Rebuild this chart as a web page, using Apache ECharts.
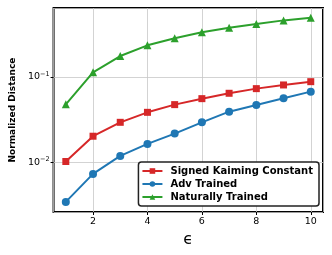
<!DOCTYPE html>
<html><head><meta charset="utf-8">
<script src="https://cdn.jsdelivr.net/npm/echarts@6/dist/echarts.min.js"></script>
<style>html,body{margin:0;padding:0;background:#fff}#c{width:332px;height:255px}</style>
</head><body><div id="c"></div>
<script>
const epsilons = [1,2,3,4,5,6,7,8,9,10];
const signedKaiming = [0.0102,0.0202,0.0294,0.0385,0.0474,0.0557,0.0644,0.0730,0.0806,0.0881];
const advTrained = [0.00343,0.0073,0.01187,0.0164,0.0217,0.0294,0.0392,0.0470,0.0562,0.0673];
const naturallyTrained = [0.0478,0.1135,0.176,0.235,0.284,0.334,0.378,0.418,0.461,0.496];
const seriesNames = ['Signed Kaiming Constant','Adv Trained','Naturally Trained'];
const F = 'DejaVu Sans';
const chart = echarts.init(document.getElementById('c'));
function mk(name, vals, color, symbol, size){
  return {name, type:'line', data: epsilons.map((e,i)=>[e, vals[i]]),
    symbol, symbolSize:size, itemStyle:{color}, lineStyle:{color, width:2}, z:3};
}
chart.setOption({
  animation:false,
  grid:{left:49,right:9,top:8,bottom:43,show:true,borderColor:'#000',borderWidth:2,backgroundColor:'transparent'},
  xAxis:{type:'value',min:0.55,max:10.45,splitNumber:5,
    axisLine:{show:false},
    axisTick:{show:true,length:3,lineStyle:{color:'#000',width:1}},
    axisLabel:{showMinLabel:false,showMaxLabel:false,color:'#000',fontFamily:F,fontSize:9.5,margin:5},
    splitLine:{show:true,lineStyle:{color:'#c8c8c8',width:0.8}},
    name:'ϵ',nameLocation:'middle',nameGap:20,nameTextStyle:{color:'#000',fontFamily:F,fontSize:16}},
  yAxis:{type:'log',logBase:10,min:0.00261,max:0.644,
    axisLine:{show:false},
    axisTick:{show:true,length:3,lineStyle:{color:'#000',width:1}},
    axisLabel:{showMinLabel:false,showMaxLabel:false,color:'#000',fontFamily:F,fontSize:9.5,margin:4,
      formatter:function(v){const e=Math.round(Math.log10(v));return '{b|10}{s|'+(e<0?'−':'')+Math.abs(e)+'}';},
      rich:{b:{fontFamily:F,fontSize:9.5,color:'#000',lineHeight:12},s:{fontFamily:F,fontSize:6.5,color:'#000',verticalAlign:'top',lineHeight:12}}},
    splitLine:{show:true,lineStyle:{color:'#c8c8c8',width:0.8}},
    name:'Normalized Distance',nameLocation:'middle',nameGap:31,nameRotate:90,
    nameTextStyle:{color:'#000',fontFamily:F,fontSize:9,fontWeight:'bold'}},
  legend:{orient:'vertical',right:13,bottom:49,data:seriesNames,
    itemWidth:20,itemHeight:7,itemGap:3,
    padding:[4,6,4,3],
    borderColor:'#222',borderWidth:1.5,borderRadius:3,backgroundColor:'#fff',
    textStyle:{color:'#000',fontFamily:F,fontSize:10,fontWeight:'bold',padding:[0,0,0,3]}},
  series:[
    mk(seriesNames[0], signedKaiming, '#d62728','rect',7),
    mk(seriesNames[1], advTrained, '#1f77b4','circle',8),
    mk(seriesNames[2], naturallyTrained, '#2ca02c','triangle',8)
  ]
});
</script></body></html>
